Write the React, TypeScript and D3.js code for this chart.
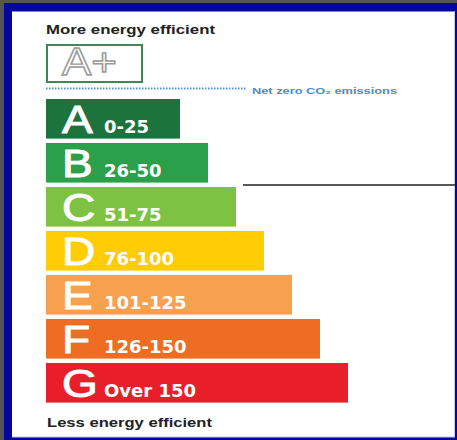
import React from "react";
import * as d3 from "d3";

const grades = ["A", "B", "C", "D", "E", "F", "G"];
const ranges = ["0-25", "26-50", "51-75", "76-100", "101-125", "126-150", "Over 150"];
const bandSteps = [1, 2, 3, 4, 5, 6, 7];
const bandColors = ["#1d733c", "#2ba04b", "#7dc243", "#ffcc05", "#f7a04e", "#ef6c23", "#e81f2b"];
const topLabel = "More energy efficient";
const bottomLabel = "Less energy efficient";
const plusLabel = "A+";
const netZeroLabel = "Net zero CO₂ emissions";

export default function App() {
  const W = 457, H = 440;
  const y = d3.scaleBand<string>().domain(grades).range([99, 402.6]).paddingInner(0.1).paddingOuter(0);
  const w = d3.scaleLinear().domain([0, 7]).range([106, 302]);
  const x0 = 46;
  const sans = "'Liberation Sans', Arial, sans-serif";
  const dj = "'DejaVu Sans', sans-serif";
  return (
    <svg width={W} height={H} style={{ position: "absolute", left: 0, top: 0 }}>
      <rect x={0} y={0} width={W} height={H} fill="#555555" />
      <rect x={4} y={3} width={W - 4} height={H - 3} fill="#0505a0" />
      <rect x={12} y={11.5} width={443} height={425.5} fill="#ffffff" />
      <line x1={454.5} x2={454.5} y1={11.5} y2={437} stroke="#c8c8ee" strokeWidth={1} />
      <line x1={12} x2={455} y1={437} y2={437} stroke="#c8c8ee" strokeWidth={1} />

      <text x={46} y={34} fontFamily={sans} fontSize={13.5} fill="#222" textLength={169} lengthAdjust="spacingAndGlyphs" style={{ fontWeight: 600 }}>
        {topLabel}
      </text>

      <rect x={47} y={45} width={95} height={37} fill="#fff" stroke="#3b8a56" strokeWidth={2} />
      <text x={62} y={75} fontFamily={sans} fontSize={38} fill="#fff" stroke="#9a9a9a" strokeWidth={1.4} textLength={55} lengthAdjust="spacingAndGlyphs">
        {plusLabel}
      </text>

      <line x1={46} x2={246} y1={88.5} y2={88.5} stroke="#4a90d9" strokeWidth={2} strokeDasharray="1.5,1.5" />
      <text x={252} y={94} fontFamily={sans} fontSize={9} fontWeight="bold" fill="#3d8fd6" textLength={145} lengthAdjust="spacingAndGlyphs">
        {netZeroLabel}
      </text>

      <line x1={243} x2={455} y1={185} y2={185} stroke="#5a5a5a" strokeWidth={2} />

      {grades.map((g, i) => {
        const top = y(g)!;
        const bw = y.bandwidth();
        const base = top + bw - 6;
        return (
          <g key={g}>
            <rect x={x0} y={top} width={w(bandSteps[i])} height={bw} fill={bandColors[i]} />
            <text transform={`translate(62,${base}) scale(1.18,1)`} fontFamily={sans} fontSize={39} fill="#fff" stroke="#fff" strokeWidth={1}>
              {g}
            </text>
            <text x={104} y={base} fontFamily={dj} fontWeight="bold" fontSize={18} fill="#fff">
              {ranges[i]}
            </text>
          </g>
        );
      })}

      <text x={47} y={427} fontFamily={sans} fontSize={13.5} fill="#222" textLength={165} lengthAdjust="spacingAndGlyphs" style={{ fontWeight: 600 }}>
        {bottomLabel}
      </text>
    </svg>
  );
}
